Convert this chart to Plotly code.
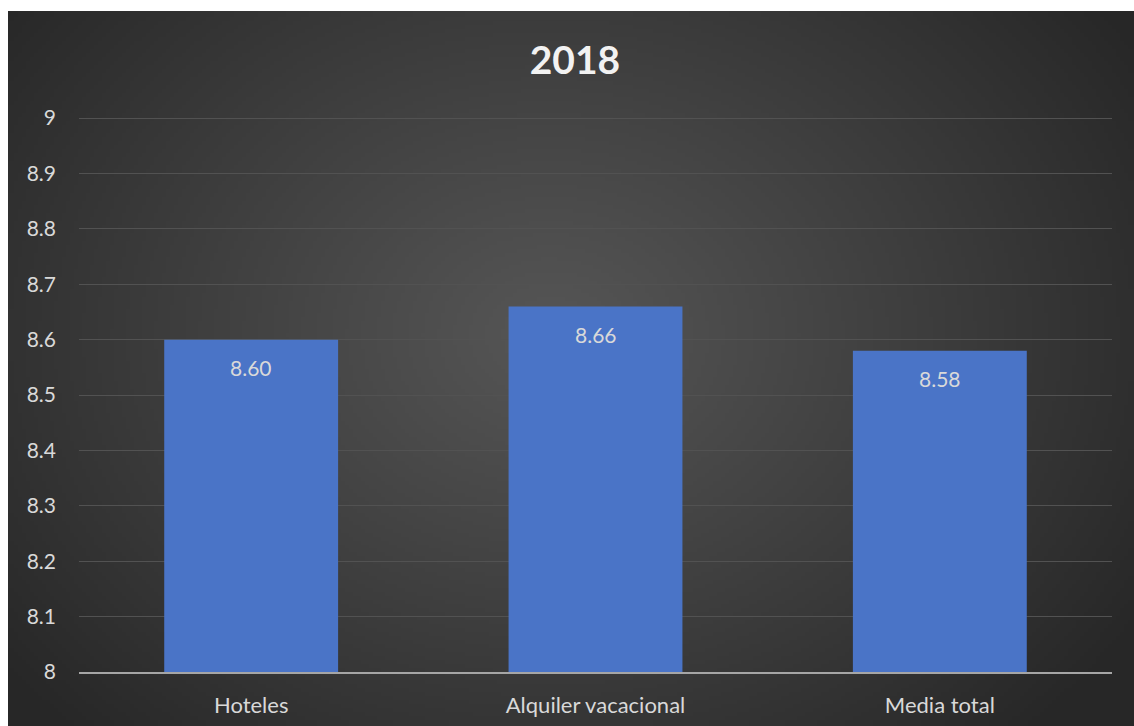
import base64, struct, zlib
import numpy as np
import plotly.graph_objects as go

categories = ["Hoteles", "Alquiler vacacional", "Media total"]
values = [8.60, 8.66, 8.58]
value_labels = ["8.60", "8.66", "8.58"]
y_ticks = [8, 8.1, 8.2, 8.3, 8.4, 8.5, 8.6, 8.7, 8.8, 8.9, 9]
y_tick_labels = ["8", "8.1", "8.2", "8.3", "8.4", "8.5", "8.6", "8.7", "8.8", "8.9", "9"]
title_text = "2018"


def png_data_uri(rgb):
    h, w, _ = rgb.shape
    raw = b"".join(b"\x00" + rgb[i].astype(np.uint8).tobytes() for i in range(h))

    def chunk(tag, data):
        c = struct.pack(">I", len(data)) + tag + data
        return c + struct.pack(">I", zlib.crc32(tag + data) & 0xFFFFFFFF)

    png = b"\x89PNG\r\n\x1a\n"
    png += chunk(b"IHDR", struct.pack(">IIBBBBB", w, h, 8, 2, 0, 0, 0))
    png += chunk(b"IDAT", zlib.compress(raw, 9))
    png += chunk(b"IEND", b"")
    return "data:image/png;base64," + base64.b64encode(png).decode()


# radial gradient background (lighter centre, dark edges)
W, H = 282, 179
yy, xx = np.mgrid[0:H, 0:W]
cx, cy = W * 0.48, H * 0.45
d = np.sqrt(((xx - cx) / (W * 0.62)) ** 2 + ((yy - cy) / (H * 0.78)) ** 2)
d = np.clip(d, 0, 1)
inner, outer = 0x56, 0x27
g = inner + (outer - inner) * d ** 1.05
img = np.stack([g, g, g], axis=-1)
bg_uri = png_data_uri(img)

FONT = "Lato, Open Sans, sans-serif"

fig = go.Figure()
fig.add_trace(go.Bar(
    x=categories, y=values,
    marker=dict(color="#4a74c7", line=dict(width=0)),
    width=0.505,
    hoverinfo="skip",
))
for c, v, t in zip(categories, values, value_labels):
    fig.add_annotation(x=c, y=v, text=t, showarrow=False, yshift=-28,
                       font=dict(family=FONT, size=21, color="#d9d9d9"))

# plot area: x 79..1112, y 117..672 in a 1134x726 page
L, R, T, B = 79, 22, 117, 54
PW, PH = 1134 - L - R, 726 - T - B
bx0, by0 = 8, 11
fig.add_layout_image(dict(
    source=bg_uri, xref="paper", yref="paper",
    x=(bx0 - L) / PW, y=(726 - B - by0) / PH,
    sizex=(1134 - bx0) / PW, sizey=(726 - by0) / PH,
    xanchor="left", yanchor="top", sizing="stretch", layer="below",
))

fig.update_layout(
    width=1134, height=726,
    margin=dict(l=L, r=R, t=T, b=B, autoexpand=False),
    paper_bgcolor="#ffffff", plot_bgcolor="rgba(0,0,0,0)",
    showlegend=False,
    title=dict(text="<b>" + title_text + "</b>", x=0.507, xanchor="center",
               y=(726 - 60) / 726, yanchor="middle",
               font=dict(family=FONT, size=39, color="#f2f2f2")),
    bargap=0.5,
)
fig.update_yaxes(range=[8, 9.002], tickvals=y_ticks, ticktext=y_tick_labels,
                 automargin=False,
                 showgrid=True, gridcolor="#525252", gridwidth=1,
                 zeroline=False, showline=False, ticks="", ticklabelstandoff=22,
                 tickfont=dict(family=FONT, size=21, color="#d9d9d9"))
fig.update_xaxes(showgrid=False, showline=True, linecolor="#a6a6a6", linewidth=2,
                 automargin=False,
                 ticks="", ticklabelstandoff=13,
                 tickfont=dict(family=FONT, size=22, color="#d9d9d9"))

fig.write_html("out.html")
